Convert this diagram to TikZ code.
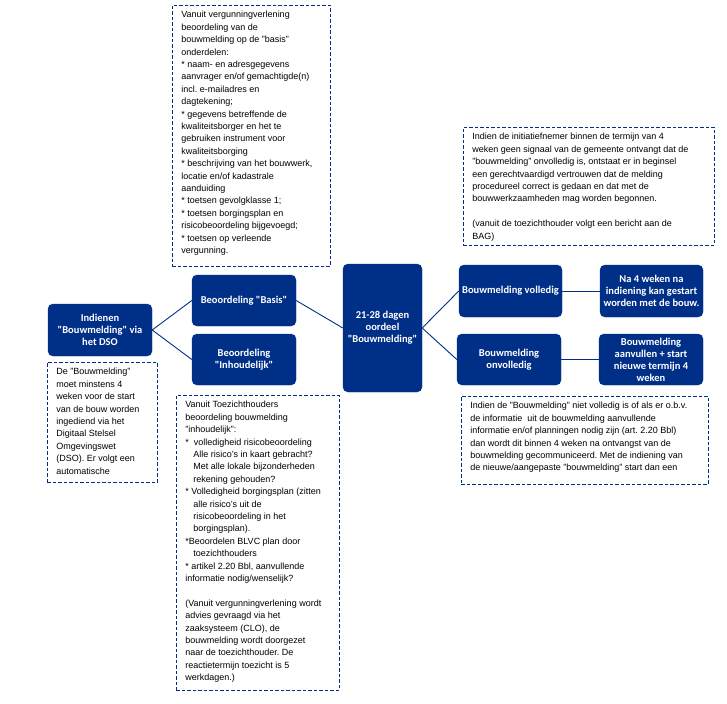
\documentclass[tikz,border=0pt]{standalone}
\usepackage{fontspec}
\setmainfont{Liberation Sans}
\newfontfamily\stapfont{Carlito}
\usetikzlibrary{positioning}
\definecolor{dsoblue}{RGB}{0,47,135}
\frenchspacing
\newcommand{\notepar}[3]{\parbox[c][#1pt][t]{#2pt}{\raggedright #3}}
\tikzset{
stapbox/.style={draw=dsoblue, fill=dsoblue, rounded corners=5, text=white, align=center, inner sep=1,
  font=\stapfont\bfseries\fontsize{10.5}{12}\selectfont}, % blue step boxes
notebox/.style={draw=dsoblue, dash pattern=on 3.5pt off 2pt, line width=0.75, anchor=north west,
  inner xsep=9, inner ysep=6, font=\fontsize{9}{12.4}\selectfont}, % dashed explanation boxes
link/.style={draw=dsoblue, line width=0.9},
}

\begin{document}
\begin{tikzpicture}[x=1pt,y=1pt,yscale=-1,xscale=1]
\useasboundingbox (0,0) rectangle (727,703);

% Text Node
\node [notebox] (basisnote) at (172,5) {\notepar{249}{140}{%
Vanuit vergunningverlening\\
beoordeling van de\\
bouwmelding op de "basis"\\
onderdelen:\\
{*} naam- en adresgegevens\\
aanvrager en/of gemachtigde(n)\\
incl. e-mailadres en\\
dagtekening;\\
{*} gegevens betreffende de\\
kwaliteitsborger en het te\\
gebruiken instrument voor\\
kwaliteitsborging\\
{*} beschrijving van het bouwwerk,\\
locatie en/of kadastrale\\
aanduiding\\
{*} toetsen gevolgklasse 1;\\
{*} toetsen borgingsplan en\\
risicobeoordeling bijgevoegd;\\
{*} toetsen op verleende\\
vergunning.}};
% Text Node
\node [notebox] (vollnote) at (463,127) {\notepar{106}{233}{%
Indien de initiatiefnemer binnen de termijn van 4\\
weken geen signaal van de gemeente ontvangt dat de\\
"bouwmelding" onvolledig is, ontstaat er in beginsel\\
een gerechtvaardigd vertrouwen dat de melding\\
procedureel correct is gedaan en dat met de\\
bouwwerkzaamheden mag worden begonnen.\\[12.4pt]
(vanuit de toezichthouder volgt een bericht aan de\\
BAG)}};
% Text Node
\node [notebox] (dsonote) at (47,362) {\notepar{108}{92}{%
De "Bouwmelding"\\
moet minstens 4\\
weken voor de start\\
van de bouw worden\\
ingediend via het\\
Digitaal Stelsel\\
Omgevingswet\\
(DSO). Er volgt een\\
automatische}};
% Text Node
\node [notebox] (inhoudnote) at (176,395) {\notepar{283}{145}{%
Vanuit Toezichthouders\\
beoordeling bouwmelding\\
"inhoudelijk":\\
{*}\ \ volledigheid risicobeoordeling\\
\hspace*{8pt}Alle risico's in kaart gebracht?\\
\hspace*{8pt}Met alle lokale bijzonderheden\\
\hspace*{8pt}rekening gehouden?\\
{*} Volledigheid borgingsplan (zitten\\
\hspace*{8pt}alle risico's uit de\\
\hspace*{8pt}risicobeoordeling in het\\
\hspace*{8pt}borgingsplan).\\
{*}Beoordelen BLVC plan door\\
\hspace*{8pt}toezichthouders\\
{*} artikel 2.20 Bbl, aanvullende\\
informatie nodig/wenselijk?\\[12.4pt]
(Vanuit vergunningverlening wordt\\
advies gevraagd via het\\
zaaksysteem (CLO), de\\
bouwmelding wordt doorgezet\\
naar de toezichthouder. De\\
reactietermijn toezicht is 5\\
werkdagen.)}};
% Text Node
\node [notebox] (onvollnote) at (461,396) {\notepar{76}{229}{%
Indien de "Bouwmelding" niet volledig is of als er o.b.v.\\
de informatie\ \ uit de bouwmelding aanvullende\\
informatie en/of planningen nodig zijn (art. 2.20 Bbl)\\
dan wordt dit binnen 4 weken na ontvangst van de\\
bouwmelding gecommuniceerd. Met de indiening van\\
de nieuwe/aangepaste "bouwmelding" start dan een}};

% Steps
\node [stapbox, minimum width=104, minimum height=52] (indienen) at (100,330) {Indienen\\"Bouwmelding" via\\het DSO};
\node [stapbox, minimum width=104, minimum height=51] (basis) at (244,300.5) {Beoordeling "Basis"};
\node [stapbox, minimum width=104, minimum height=51] (inhoud) at (244,359.5) {Beoordeling\\"Inhoudelijk"};
\node [stapbox, minimum width=79, minimum height=128] (oordeel) at (382.5,328) {21-28 dagen\\oordeel\\"Bouwmelding"};
\node [stapbox, minimum width=103, minimum height=52] (volledig) at (510.5,291) {Bouwmelding volledig};
\node [stapbox, minimum width=104, minimum height=51] (onvolledig) at (509,359.5) {Bouwmelding\\onvolledig};
\node [stapbox, minimum width=103, minimum height=52] (starten) at (651.5,291) {Na 4 weken na\\indiening kan gestart\\worden met de bouw.};
\node [stapbox, minimum width=104, minimum height=51] (aanvullen) at (651,359.5) {Bouwmelding\\aanvullen + start\\nieuwe termijn 4\\weken};

% Connectors
\draw [link] (indienen.east) -- (basis.west);
\draw [link] (indienen.east) -- (inhoud.west);
\draw [link] (basis.east) -- (oordeel.west);
\draw [link] (oordeel.east) -- (volledig.west);
\draw [link] (oordeel.east) -- (onvolledig.west);
\draw [link] (volledig.east) -- (starten.west);
\draw [link] (onvolledig.east) -- (aanvullen.west);

\end{tikzpicture}
\end{document}
